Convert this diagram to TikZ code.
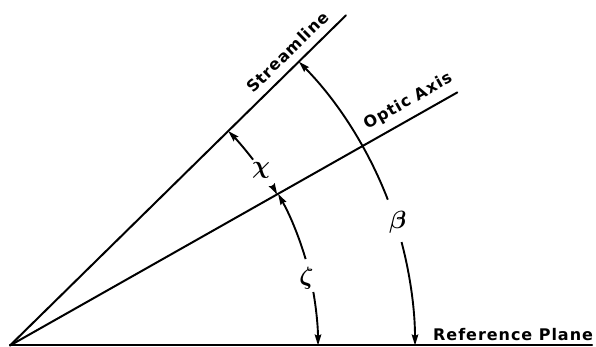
\documentclass[tikz,border=0pt]{standalone}
\usepackage{fontspec}
\usepackage{bm}
\newfontfamily\lblfont[LetterSpace=6]{DejaVu Sans}
\usetikzlibrary{arrows.meta}
\begin{document}
\begin{tikzpicture}[x=1pt,y=1pt,
  axisline/.style={line width=2pt, line cap=round},
  dimarc/.style={line width=1.9pt, -{Stealth[length=11pt,width=6.5pt,inset=1.5pt]}},
  lbl/.style={font=\lblfont\bfseries\fontsize{16}{18}\selectfont, inner sep=0pt},
  greek/.style={font=\fontsize{23}{26}\selectfont, inner sep=0pt}]
\useasboundingbox (0,0) rectangle (596,347);
\coordinate (O) at (10,1.5);
\coordinate (S) at ([shift={(44.5:471)}]O);
\coordinate (A) at ([shift={(29.5:514)}]O);
\coordinate (R) at (592,1.5);
\draw[axisline] (O) -- (S);
\draw[axisline] (O) -- (A);
\draw[axisline] (O) -- (R);
% labels
\node[lbl, rotate=44.5] (ls) at ([shift={(46.6:404)}]O) {Streamline};
\node[lbl, rotate=29.5] (la) at ([shift={(31.5:467)}]O) {Optic Axis};
\node[lbl, anchor=base west] (lr) at (433,6.5) {Reference Plane};
% beta
\node[greek] (beta) at ([shift={(17.65:407)}]O) {$\bm{\beta}$};
\draw[dimarc] ([shift={(21.1:405)}]O) arc[start angle=21.1, end angle=44.5, radius=405];
\draw[dimarc] ([shift={(14.8:405)}]O) arc[start angle=14.8, end angle=0, radius=405];
% zeta
\node[greek] (zeta) at ([shift={(12.7:304)}]O) {$\bm{\zeta}$};
\draw[dimarc] ([shift={(16.3:308)}]O) arc[start angle=16.3, end angle=29.5, radius=308];
\draw[dimarc] ([shift={(10.0:308)}]O) arc[start angle=10.0, end angle=0, radius=308];
% chi
\node[greek] (chi) at ([shift={(34.9:306)}]O) {$\bm{\chi}$};
\draw[dimarc] ([shift={(37.4:306)}]O) arc[start angle=37.4, end angle=44.5, radius=306];
\draw[dimarc] ([shift={(31.4:307)}]O) arc[start angle=31.4, end angle=29.5, radius=307];
\end{tikzpicture}
\end{document}
